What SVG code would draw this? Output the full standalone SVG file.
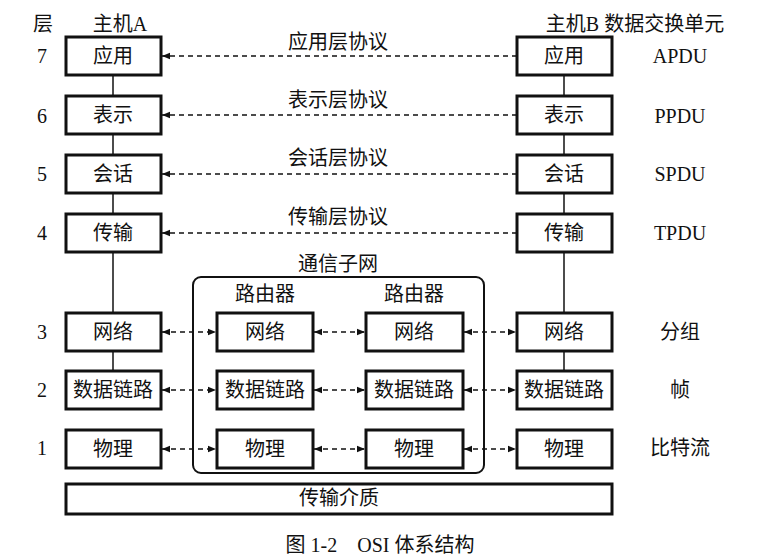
<svg xmlns="http://www.w3.org/2000/svg" width="760" height="559" viewBox="0 0 760 559">
<style>
text{font-family:"Liberation Serif","Noto Sans CJK SC",serif;font-size:20px;fill:#111;text-anchor:middle}
.b{fill:#fff;stroke:#111;stroke-width:3}
.v{stroke:#111;stroke-width:1.5}
.d{stroke:#111;stroke-width:1.5;stroke-dasharray:5 4;fill:none}
</style>
<defs>
<marker id="a" viewBox="0 0 10 10" refX="10" refY="5" markerWidth="8" markerHeight="8" orient="auto-start-reverse" markerUnits="userSpaceOnUse"><path d="M0,1 L10,5 L0,9 z" fill="#111"/></marker>
</defs>
<rect width="760" height="559" fill="#fff"/>
<g id="labels">
<text x="43" y="31">层</text><text x="120" y="31">主机A</text><text x="635" y="31">主机B 数据交换单元</text>
<text x="42" y="63">7</text><text x="42" y="123">6</text><text x="42" y="181">5</text><text x="42" y="240">4</text>
<text x="42" y="339">3</text><text x="42" y="397">2</text><text x="42" y="455">1</text>
<text x="680" y="63">APDU</text><text x="680" y="123">PPDU</text><text x="680" y="181">SPDU</text><text x="680" y="240">TPDU</text>
<text x="680" y="339">分组</text><text x="680" y="397">帧</text><text x="680" y="455">比特流</text>
<text x="338" y="49">应用层协议</text><text x="338" y="107">表示层协议</text><text x="338" y="165">会话层协议</text><text x="338" y="224">传输层协议</text>
<text x="338" y="271">通信子网</text><text x="265" y="301">路由器</text><text x="414" y="301">路由器</text>
<text x="380" y="552">图 1-2　OSI 体系结构</text>
</g>
<g id="connectors">
<line class="v" x1="113" y1="75" x2="113" y2="313"/>
<line class="v" x1="564" y1="75" x2="564" y2="313"/>
<line class="v" x1="113" y1="351" x2="113" y2="371"/>
<line class="v" x1="564" y1="351" x2="564" y2="371"/>
<line class="d" x1="517" y1="56" x2="162" y2="56" marker-end="url(#a)"/>
<line class="d" x1="517" y1="115" x2="162" y2="115" marker-end="url(#a)"/>
<line class="d" x1="517" y1="174" x2="162" y2="174" marker-end="url(#a)"/>
<line class="d" x1="517" y1="233" x2="162" y2="233" marker-end="url(#a)"/>
<g marker-start="url(#a)" marker-end="url(#a)">
<line class="d" x1="162" y1="332" x2="216" y2="332"/><line class="d" x1="314" y1="332" x2="365" y2="332"/><line class="d" x1="464" y1="332" x2="516" y2="332"/>
<line class="d" x1="162" y1="390" x2="216" y2="390"/><line class="d" x1="314" y1="390" x2="365" y2="390"/><line class="d" x1="464" y1="390" x2="516" y2="390"/>
<line class="d" x1="162" y1="449" x2="216" y2="449"/><line class="d" x1="314" y1="449" x2="365" y2="449"/><line class="d" x1="464" y1="449" x2="516" y2="449"/>
</g>
</g>
<g id="subnet"><rect x="193" y="277" width="291" height="196" rx="8" fill="none" stroke="#111" stroke-width="2"/></g>
<g id="hostA">
<rect class="b" x="66" y="37" width="95" height="38"/><text x="113" y="63">应用</text>
<rect class="b" x="66" y="96" width="95" height="38"/><text x="113" y="122">表示</text>
<rect class="b" x="66" y="155" width="95" height="38"/><text x="113" y="181">会话</text>
<rect class="b" x="66" y="214" width="95" height="38"/><text x="113" y="240">传输</text>
<rect class="b" x="66" y="313" width="95" height="38"/><text x="113" y="339">网络</text>
<rect class="b" x="66" y="371" width="95" height="38"/><text x="113" y="397">数据链路</text>
<rect class="b" x="66" y="430" width="95" height="38"/><text x="113" y="456">物理</text>
</g>
<g id="router1">
<rect class="b" x="217" y="313" width="96" height="38"/><text x="265" y="339">网络</text>
<rect class="b" x="217" y="371" width="96" height="38"/><text x="265" y="397">数据链路</text>
<rect class="b" x="217" y="430" width="96" height="38"/><text x="265" y="456">物理</text>
</g>
<g id="router2">
<rect class="b" x="366" y="313" width="97" height="38"/><text x="414" y="339">网络</text>
<rect class="b" x="366" y="371" width="97" height="38"/><text x="414" y="397">数据链路</text>
<rect class="b" x="366" y="430" width="97" height="38"/><text x="414" y="456">物理</text>
</g>
<g id="hostB">
<rect class="b" x="517" y="37" width="95" height="38"/><text x="564" y="63">应用</text>
<rect class="b" x="517" y="96" width="95" height="38"/><text x="564" y="122">表示</text>
<rect class="b" x="517" y="155" width="95" height="38"/><text x="564" y="181">会话</text>
<rect class="b" x="517" y="214" width="95" height="38"/><text x="564" y="240">传输</text>
<rect class="b" x="517" y="313" width="95" height="38"/><text x="564" y="339">网络</text>
<rect class="b" x="517" y="371" width="95" height="38"/><text x="564" y="397">数据链路</text>
<rect class="b" x="517" y="430" width="95" height="38"/><text x="564" y="456">物理</text>
</g>
<g id="medium"><rect class="b" x="66" y="484" width="546" height="30"/><text x="339" y="505">传输介质</text></g>
</svg>
